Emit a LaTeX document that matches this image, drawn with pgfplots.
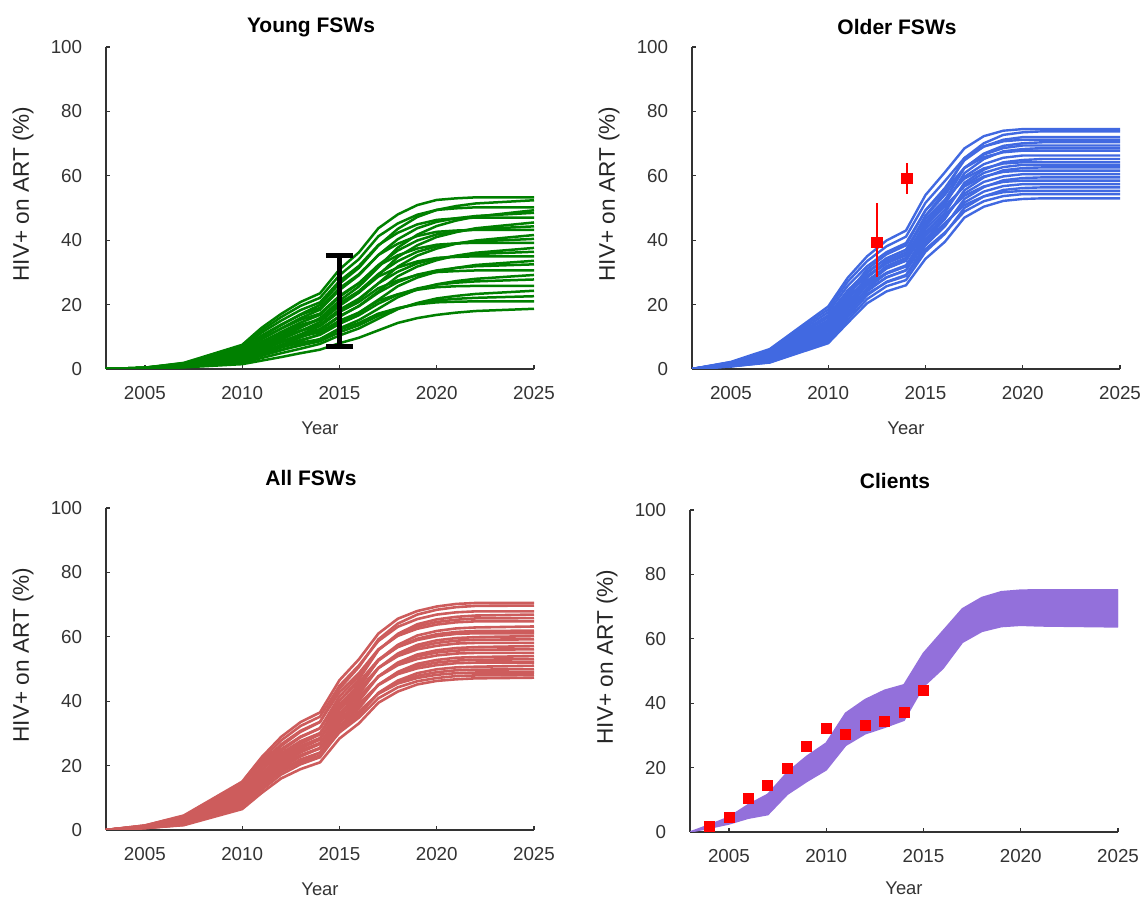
\documentclass[border=0pt]{standalone}
\usepackage{pgfplots}
\pgfplotsset{compat=1.18}
\usepackage{fontspec}
\setmainfont{Liberation Sans}
\definecolor{cgreen}{RGB}{0,128,0}
\definecolor{cblue}{RGB}{65,105,225}
\definecolor{cred}{RGB}{205,92,92}
\definecolor{cpurple}{RGB}{147,112,219}
\definecolor{axgray}{RGB}{51,51,51}
\pgfplotsset{
 panel/.style={
  scale only axis, width=214pt, height=161pt,
  xmin=2003, xmax=2025, ymin=0, ymax=100,
  axis lines=left, axis line style={-, axgray, line width=0.65pt},
  xtick={2005,2010,2015,2020,2025}, xticklabels={2005,2010,2015,2020,2025},
  ytick={0,20,40,60,80,100}, yticklabels={0,20,40,60,80,100},
  tick align=inside, major tick length=2.2pt, tick style={axgray, line width=0.65pt},
  ticklabel style={font=\fontsize{9.4}{11}\selectfont, text=axgray},
  xticklabel style={yshift=-5.4pt},
  yticklabel style={xshift=-8.4pt},
  xlabel=Year,
  xlabel style={at={(axis description cs:0.5,-0.183)}, anchor=center, font=\fontsize{9.2}{11}\selectfont, text=axgray},
  ylabel={HIV+ on ART (\%)},
  ylabel style={at={(axis description cs:-0.194,0.543)}, anchor=center, font=\fontsize{11.3}{13}\selectfont, text=black!85},
  title style={at={(axis description cs:0.5,1)}, anchor=center, yshift=4.0pt, xshift=-4.5pt, font=\fontsize{10.5}{12}\selectfont\bfseries},
 },
}
\begin{document}
\begin{tikzpicture}
\useasboundingbox (0,0) rectangle (570.5pt,448.5pt);
% ---------------- Young FSWs ----------------
\begin{axis}[panel, at={(53pt,264pt)}, anchor=south west, title={Young FSWs},
  run/.style={cgreen, line width=1.25pt, mark=none}]
\addplot[run] coordinates {(2003,0)(2005,0.4)(2007,1.9)(2010,7.5)(2011,12.8)(2012,17.1)(2013,20.8)(2014,23.5)(2015,30.9)(2016,36.2)(2017,43.7)(2018,48.0)(2019,50.9)(2020,52.5)(2021,53.0)(2022,53.3)(2025,53.3)};
\addplot[run] coordinates {(2003,0)(2005,0.4)(2007,1.6)(2010,5.8)(2011,10.0)(2012,13.6)(2013,17.0)(2014,19.9)(2015,26.5)(2016,31.4)(2017,38.3)(2018,43.5)(2019,47.2)(2020,49.4)(2021,50.6)(2022,51.4)(2025,52.4)};
\addplot[run] coordinates {(2003,0)(2005,0.4)(2007,1.8)(2010,7.0)(2011,12.0)(2012,16.1)(2013,19.6)(2014,22.1)(2015,29.1)(2016,34.1)(2017,41.2)(2018,45.2)(2019,47.9)(2020,49.4)(2021,49.9)(2022,50.2)(2025,50.2)};
\addplot[run] coordinates {(2003,0)(2005,0.3)(2007,1.3)(2010,3.9)(2011,6.9)(2012,9.9)(2013,12.8)(2014,15.8)(2015,21.2)(2016,25.6)(2017,31.6)(2018,37.7)(2019,41.7)(2020,44.4)(2021,46.1)(2022,47.3)(2025,49.3)};
\addplot[run] coordinates {(2003,0)(2005,0.3)(2007,1.5)(2010,5.3)(2011,9.2)(2012,12.6)(2013,15.8)(2014,18.4)(2015,24.5)(2016,29.1)(2017,35.4)(2018,40.3)(2019,43.7)(2020,45.7)(2021,46.8)(2022,47.5)(2025,48.5)};
\addplot[run] coordinates {(2003,0)(2005,0.4)(2007,1.6)(2010,6.6)(2011,11.3)(2012,15.0)(2013,18.3)(2014,20.7)(2015,27.3)(2016,32.0)(2017,38.5)(2018,42.3)(2019,44.9)(2020,46.3)(2021,46.8)(2022,47.0)(2025,47.0)};
\addplot[run] coordinates {(2003,0)(2005,0.3)(2007,1.2)(2010,3.6)(2011,6.4)(2012,9.1)(2013,11.8)(2014,14.6)(2015,19.6)(2016,23.7)(2017,29.1)(2018,34.8)(2019,38.4)(2020,41.0)(2021,42.5)(2022,43.7)(2025,45.5)};
\addplot[run] coordinates {(2003,0)(2005,0.3)(2007,1.4)(2010,4.9)(2011,8.4)(2012,11.5)(2013,14.4)(2014,16.8)(2015,22.4)(2016,26.6)(2017,32.3)(2018,36.8)(2019,39.9)(2020,41.8)(2021,42.7)(2022,43.4)(2025,44.3)};
\addplot[run] coordinates {(2003,0)(2005,0.3)(2007,1.5)(2010,6.0)(2011,10.4)(2012,13.8)(2013,16.8)(2014,19.0)(2015,25.1)(2016,29.4)(2017,35.4)(2018,38.9)(2019,41.3)(2020,42.6)(2021,43.0)(2022,43.2)(2025,43.2)};
\addplot[run] coordinates {(2003,0)(2005,0.2)(2007,1.1)(2010,3.3)(2011,5.8)(2012,8.3)(2013,10.8)(2014,13.3)(2015,17.9)(2016,21.6)(2017,26.6)(2018,31.8)(2019,35.2)(2020,37.4)(2021,38.9)(2022,39.9)(2025,41.6)};
\addplot[run] coordinates {(2003,0)(2005,0.3)(2007,1.3)(2010,4.4)(2011,7.7)(2012,10.5)(2013,13.1)(2014,15.4)(2015,20.4)(2016,24.2)(2017,29.5)(2018,33.5)(2019,36.4)(2020,38.1)(2021,39.0)(2022,39.6)(2025,40.4)};
\addplot[run] coordinates {(2003,0)(2005,0.3)(2007,1.4)(2010,5.5)(2011,9.4)(2012,12.5)(2013,15.3)(2014,17.2)(2015,22.7)(2016,26.7)(2017,32.1)(2018,35.3)(2019,37.4)(2020,38.6)(2021,39.0)(2022,39.2)(2025,39.2)};
\addplot[run] coordinates {(2003,0)(2005,0.2)(2007,1.0)(2010,3.0)(2011,5.3)(2012,7.5)(2013,9.8)(2014,12.0)(2015,16.2)(2016,19.6)(2017,24.1)(2018,28.8)(2019,31.8)(2020,33.8)(2021,35.2)(2022,36.1)(2025,37.6)};
\addplot[run] coordinates {(2003,0)(2005,0.3)(2007,1.1)(2010,4.0)(2011,6.9)(2012,9.5)(2013,11.8)(2014,13.8)(2015,18.4)(2016,21.8)(2017,26.6)(2018,30.2)(2019,32.8)(2020,34.3)(2021,35.1)(2022,35.7)(2025,36.4)};
\addplot[run] coordinates {(2003,0)(2005,0.3)(2007,1.2)(2010,4.9)(2011,8.4)(2012,11.2)(2013,13.7)(2014,15.4)(2015,20.3)(2016,23.8)(2017,28.7)(2018,31.5)(2019,33.4)(2020,34.5)(2021,34.8)(2022,35.0)(2025,35.0)};
\addplot[run] coordinates {(2003,0)(2005,0.2)(2007,0.9)(2010,2.7)(2011,4.7)(2012,6.7)(2013,8.7)(2014,10.8)(2015,14.4)(2016,17.5)(2017,21.5)(2018,25.7)(2019,28.4)(2020,30.2)(2021,31.4)(2022,32.3)(2025,33.6)};
\addplot[run] coordinates {(2003,0)(2005,0.2)(2007,1.0)(2010,3.6)(2011,6.2)(2012,8.5)(2013,10.6)(2014,12.4)(2015,16.4)(2016,19.5)(2017,23.7)(2018,27.0)(2019,29.3)(2020,30.6)(2021,31.4)(2022,31.9)(2025,32.5)};
\addplot[run] coordinates {(2003,0)(2005,0.2)(2007,1.1)(2010,4.3)(2011,7.3)(2012,9.8)(2013,11.9)(2014,13.5)(2015,17.7)(2016,20.8)(2017,25.1)(2018,27.5)(2019,29.2)(2020,30.1)(2021,30.4)(2022,30.6)(2025,30.6)};
\addplot[run] coordinates {(2003,0)(2005,0.2)(2007,0.8)(2010,2.3)(2011,4.1)(2012,5.8)(2013,7.6)(2014,9.3)(2015,12.6)(2016,15.2)(2017,18.7)(2018,22.3)(2019,24.7)(2020,26.3)(2021,27.3)(2022,28.0)(2025,29.2)};
\addplot[run] coordinates {(2003,0)(2005,0.2)(2007,0.9)(2010,3.1)(2011,5.3)(2012,7.2)(2013,9.0)(2014,10.6)(2015,14.0)(2016,16.7)(2017,20.3)(2018,23.1)(2019,25.0)(2020,26.2)(2021,26.8)(2022,27.2)(2025,27.8)};
\addplot[run] coordinates {(2003,0)(2005,0.2)(2007,0.9)(2010,3.6)(2011,6.2)(2012,8.3)(2013,10.1)(2014,11.4)(2015,15.0)(2016,17.5)(2017,21.2)(2018,23.2)(2019,24.6)(2020,25.4)(2021,25.7)(2022,25.8)(2025,25.8)};
\addplot[run] coordinates {(2003,0)(2005,0.1)(2007,0.7)(2010,1.9)(2011,3.4)(2012,4.9)(2013,6.3)(2014,7.8)(2015,10.4)(2016,12.6)(2017,15.6)(2018,18.6)(2019,20.5)(2020,21.9)(2021,22.7)(2022,23.3)(2025,24.3)};
\addplot[run] coordinates {(2003,0)(2005,0.2)(2007,0.7)(2010,2.5)(2011,4.3)(2012,5.9)(2013,7.3)(2014,8.6)(2015,11.4)(2016,13.6)(2017,16.5)(2018,18.8)(2019,20.3)(2020,21.3)(2021,21.8)(2022,22.1)(2025,22.6)};
\addplot[run] coordinates {(2003,0)(2005,0.2)(2007,0.7)(2010,2.9)(2011,5.0)(2012,6.7)(2013,8.2)(2014,9.2)(2015,12.2)(2016,14.3)(2017,17.2)(2018,18.9)(2019,20.1)(2020,20.7)(2021,20.9)(2022,21.0)(2025,21.0)};
\addplot[run] coordinates {(2003,0)(2005,0.1)(2007,0.5)(2010,1.5)(2011,2.6)(2012,3.7)(2013,4.9)(2014,6.0)(2015,8.0)(2016,9.7)(2017,12.0)(2018,14.3)(2019,15.8)(2020,16.8)(2021,17.5)(2022,18.0)(2025,18.7)};
\addplot[black, mark=none, forget plot, error bars/.cd, y dir=both, y explicit,
  error bar style={line width=2.5pt, black}, error mark=|,
  error mark options={black, line width=2.5pt, mark size=6.8pt}]
  coordinates {(2015,21.05) +- (0,14.05)};
\end{axis}
% ---------------- Older FSWs ----------------
\begin{axis}[panel, at={(346pt,264pt)}, anchor=south west, title={Older FSWs},
  run/.style={cblue, line width=1.2pt, mark=none}]
\addplot[run] coordinates {(2003,0)(2005,2.2)(2007,6.2)(2010,19.4)(2011,28.3)(2012,35.0)(2013,39.9)(2014,43.0)(2015,54.0)(2016,61.1)(2017,68.5)(2018,72.3)(2019,74.0)(2020,74.5)(2021,74.5)(2022,74.5)(2025,74.5)};
\addplot[run] coordinates {(2003,0)(2005,1.1)(2007,2.8)(2010,11.1)(2011,19.9)(2012,28.4)(2013,33.6)(2014,36.2)(2015,47.6)(2016,55.0)(2017,65.5)(2018,70.1)(2019,72.7)(2020,73.5)(2021,73.8)(2022,73.8)(2025,73.8)};
\addplot[run] coordinates {(2003,0)(2005,1.6)(2007,4.3)(2010,14.8)(2011,23.4)(2012,31.0)(2013,35.6)(2014,38.4)(2015,49.3)(2016,56.2)(2017,64.8)(2018,69.1)(2019,71.2)(2020,72.0)(2021,72.0)(2022,72.0)(2025,72.0)};
\addplot[run] coordinates {(2003,0)(2005,2.1)(2007,5.9)(2010,18.5)(2011,27.1)(2012,33.5)(2013,38.1)(2014,41.1)(2015,51.6)(2016,58.4)(2017,65.5)(2018,69.1)(2019,70.7)(2020,71.2)(2021,71.2)(2022,71.2)(2025,71.2)};
\addplot[run] coordinates {(2003,0)(2005,1.1)(2007,2.7)(2010,10.6)(2011,19.0)(2012,27.1)(2013,32.0)(2014,34.5)(2015,45.4)(2016,52.4)(2017,62.4)(2018,66.9)(2019,69.3)(2020,70.1)(2021,70.4)(2022,70.4)(2025,70.4)};
\addplot[run] coordinates {(2003,0)(2005,1.5)(2007,4.2)(2010,14.2)(2011,22.6)(2012,29.8)(2013,34.4)(2014,37.0)(2015,47.5)(2016,54.1)(2017,62.5)(2018,66.6)(2019,68.6)(2020,69.4)(2021,69.4)(2022,69.4)(2025,69.4)};
\addplot[run] coordinates {(2003,0)(2005,1.0)(2007,2.6)(2010,10.3)(2011,18.5)(2012,26.4)(2013,31.2)(2014,33.6)(2015,44.2)(2016,51.1)(2017,60.8)(2018,65.2)(2019,67.6)(2020,68.3)(2021,68.6)(2022,68.6)(2025,68.6)};
\addplot[run] coordinates {(2003,0)(2005,2.0)(2007,5.6)(2010,17.6)(2011,25.8)(2012,31.9)(2013,36.3)(2014,39.1)(2015,49.2)(2016,55.6)(2017,62.4)(2018,65.8)(2019,67.3)(2020,67.8)(2021,67.8)(2022,67.8)(2025,67.8)};
\addplot[run] coordinates {(2003,0)(2005,1.5)(2007,4.0)(2010,13.6)(2011,21.5)(2012,28.5)(2013,32.8)(2014,35.3)(2015,45.4)(2016,51.7)(2017,59.7)(2018,63.6)(2019,65.6)(2020,66.3)(2021,66.3)(2022,66.3)(2025,66.3)};
\addplot[run] coordinates {(2003,0)(2005,1.0)(2007,2.5)(2010,9.8)(2011,17.6)(2012,25.1)(2013,29.7)(2014,31.9)(2015,42.1)(2016,48.6)(2017,57.8)(2018,61.9)(2019,64.2)(2020,64.9)(2021,65.2)(2022,65.2)(2025,65.2)};
\addplot[run] coordinates {(2003,0)(2005,1.9)(2007,5.3)(2010,16.7)(2011,24.4)(2012,30.2)(2013,34.3)(2014,37.0)(2015,46.5)(2016,52.6)(2017,59.1)(2018,62.3)(2019,63.8)(2020,64.2)(2021,64.2)(2022,64.2)(2025,64.2)};
\addplot[run] coordinates {(2003,0)(2005,1.4)(2007,3.8)(2010,13.0)(2011,20.6)(2012,27.3)(2013,31.4)(2014,33.8)(2015,43.4)(2016,49.5)(2017,57.1)(2018,60.9)(2019,62.7)(2020,63.4)(2021,63.4)(2022,63.4)(2025,63.4)};
\addplot[run] coordinates {(2003,0)(2005,0.9)(2007,2.4)(2010,9.4)(2011,16.9)(2012,24.1)(2013,28.5)(2014,30.7)(2015,40.4)(2016,46.6)(2017,55.5)(2018,59.5)(2019,61.7)(2020,62.4)(2021,62.6)(2022,62.6)(2025,62.6)};
\addplot[run] coordinates {(2003,0)(2005,1.8)(2007,5.1)(2010,16.0)(2011,23.4)(2012,29.0)(2013,33.0)(2014,35.5)(2015,44.7)(2016,50.5)(2017,56.7)(2018,59.8)(2019,61.2)(2020,61.6)(2021,61.6)(2022,61.6)(2025,61.6)};
\addplot[run] coordinates {(2003,0)(2005,1.3)(2007,3.6)(2010,12.4)(2011,19.7)(2012,26.0)(2013,29.9)(2014,32.2)(2015,41.4)(2016,47.2)(2017,54.5)(2018,58.1)(2019,59.8)(2020,60.5)(2021,60.5)(2022,60.5)(2025,60.5)};
\addplot[run] coordinates {(2003,0)(2005,0.9)(2007,2.3)(2010,8.9)(2011,16.1)(2012,22.9)(2013,27.1)(2014,29.2)(2015,38.4)(2016,44.3)(2017,52.8)(2018,56.5)(2019,58.6)(2020,59.3)(2021,59.5)(2022,59.5)(2025,59.5)};
\addplot[run] coordinates {(2003,0)(2005,1.8)(2007,4.9)(2010,15.2)(2011,22.2)(2012,27.5)(2013,31.3)(2014,33.8)(2015,42.4)(2016,48.0)(2017,53.8)(2018,56.7)(2019,58.1)(2020,58.5)(2021,58.5)(2022,58.5)(2025,58.5)};
\addplot[run] coordinates {(2003,0)(2005,1.3)(2007,3.4)(2010,11.8)(2011,18.7)(2012,24.7)(2013,28.4)(2014,30.6)(2015,39.3)(2016,44.8)(2017,51.7)(2018,55.1)(2019,56.8)(2020,57.4)(2021,57.4)(2022,57.4)(2025,57.4)};
\addplot[run] coordinates {(2003,0)(2005,0.8)(2007,2.1)(2010,8.5)(2011,15.2)(2012,21.7)(2013,25.7)(2014,27.6)(2015,36.4)(2016,42.0)(2017,50.0)(2018,53.6)(2019,55.6)(2020,56.2)(2021,56.4)(2022,56.4)(2025,56.4)};
\addplot[run] coordinates {(2003,0)(2005,1.7)(2007,4.6)(2010,14.4)(2011,21.0)(2012,26.0)(2013,29.6)(2014,31.9)(2015,40.1)(2016,45.3)(2017,50.9)(2018,53.6)(2019,54.9)(2020,55.3)(2021,55.3)(2022,55.3)(2025,55.3)};
\addplot[run] coordinates {(2003,0)(2005,1.2)(2007,3.3)(2010,11.1)(2011,17.6)(2012,23.3)(2013,26.9)(2014,28.9)(2015,37.2)(2016,42.4)(2017,48.9)(2018,52.1)(2019,53.7)(2020,54.3)(2021,54.3)(2022,54.3)(2025,54.3)};
\addplot[run] coordinates {(2003,0)(2005,0.8)(2007,2.0)(2010,8.0)(2011,14.3)(2012,20.4)(2013,24.1)(2014,26.0)(2015,34.2)(2016,39.5)(2017,47.0)(2018,50.4)(2019,52.2)(2020,52.8)(2021,53.0)(2022,53.0)(2025,53.0)};
\addplot[only marks, mark=square*, mark size=2.7pt, color=red, forget plot,
  error bars/.cd, y dir=both, y explicit, error bar style={line width=1.25pt, red}, error mark=none]
  coordinates {(2012.5,39.3) += (0,12.4) -= (0,10.6) (2014.05,59.2) += (0,4.7) -= (0,4.9)};
\end{axis}
% ---------------- All FSWs ----------------
\begin{axis}[panel, at={(53pt,33.5pt)}, anchor=south west, title={All FSWs}, title style={yshift=5.0pt},
  run/.style={cred, line width=1.3pt, mark=none}]
\addplot[run] coordinates {(2003,0)(2005,1.4)(2007,4.5)(2010,15.0)(2011,22.6)(2012,28.9)(2013,33.5)(2014,36.5)(2015,46.5)(2016,53.0)(2017,61.0)(2018,65.6)(2019,68.0)(2020,69.4)(2021,70.2)(2022,70.5)(2025,70.5)};
\addplot[run] coordinates {(2003,0)(2005,1.1)(2007,3.3)(2010,12.2)(2011,19.7)(2012,26.1)(2013,30.5)(2014,33.5)(2015,43.9)(2016,50.6)(2017,59.2)(2018,64.1)(2019,66.9)(2020,68.4)(2021,69.2)(2022,69.6)(2025,69.7)};
\addplot[run] coordinates {(2003,0)(2005,1.4)(2007,4.3)(2010,14.5)(2011,21.7)(2012,27.8)(2013,32.3)(2014,35.2)(2015,44.8)(2016,51.1)(2017,58.7)(2018,63.1)(2019,65.5)(2020,66.9)(2021,67.6)(2022,67.9)(2025,67.9)};
\addplot[run] coordinates {(2003,0)(2005,0.8)(2007,2.1)(2010,9.2)(2011,16.3)(2012,22.6)(2013,26.8)(2014,29.7)(2015,40.1)(2016,46.8)(2017,55.9)(2018,60.9)(2019,63.9)(2020,65.4)(2021,66.2)(2022,66.6)(2025,66.9)};
\addplot[run] coordinates {(2003,0)(2005,1.1)(2007,3.2)(2010,11.5)(2011,18.6)(2012,24.6)(2013,28.8)(2014,31.6)(2015,41.5)(2016,47.8)(2017,55.9)(2018,60.5)(2019,63.2)(2020,64.6)(2021,65.3)(2022,65.7)(2025,65.8)};
\addplot[run] coordinates {(2003,0)(2005,1.3)(2007,4.1)(2010,13.8)(2011,20.7)(2012,26.6)(2013,30.8)(2014,33.6)(2015,42.8)(2016,48.7)(2017,56.1)(2018,60.3)(2019,62.5)(2020,63.8)(2021,64.5)(2022,64.8)(2025,64.8)};
\addplot[run] coordinates {(2003,0)(2005,0.8)(2007,2.0)(2010,8.7)(2011,15.4)(2012,21.4)(2013,25.3)(2014,28.1)(2015,37.9)(2016,44.2)(2017,52.8)(2018,57.5)(2019,60.4)(2020,61.8)(2021,62.6)(2022,62.9)(2025,63.2)};
\addplot[run] coordinates {(2003,0)(2005,1.0)(2007,3.0)(2010,10.8)(2011,17.5)(2012,23.2)(2013,27.1)(2014,29.8)(2015,39.0)(2016,44.9)(2017,52.6)(2018,56.9)(2019,59.4)(2020,60.8)(2021,61.5)(2022,61.8)(2025,61.9)};
\addplot[run] coordinates {(2003,0)(2005,1.2)(2007,3.9)(2010,13.0)(2011,19.6)(2012,25.1)(2013,29.0)(2014,31.6)(2015,40.3)(2016,45.9)(2017,52.9)(2018,56.8)(2019,59.0)(2020,60.2)(2021,60.9)(2022,61.1)(2025,61.1)};
\addplot[run] coordinates {(2003,0)(2005,0.7)(2007,1.9)(2010,8.2)(2011,14.6)(2012,20.3)(2013,24.1)(2014,26.7)(2015,36.1)(2016,42.1)(2017,50.3)(2018,54.8)(2019,57.5)(2020,58.9)(2021,59.6)(2022,59.9)(2025,60.2)};
\addplot[run] coordinates {(2003,0)(2005,0.9)(2007,2.8)(2010,10.4)(2011,16.7)(2012,22.1)(2013,25.9)(2014,28.5)(2015,37.3)(2016,43.0)(2017,50.3)(2018,54.5)(2019,56.8)(2020,58.1)(2021,58.8)(2022,59.1)(2025,59.2)};
\addplot[run] coordinates {(2003,0)(2005,1.2)(2007,3.7)(2010,12.4)(2011,18.6)(2012,23.8)(2013,27.6)(2014,30.1)(2015,38.3)(2016,43.7)(2017,50.3)(2018,54.0)(2019,56.1)(2020,57.2)(2021,57.9)(2022,58.1)(2025,58.1)};
\addplot[run] coordinates {(2003,0)(2005,0.7)(2007,1.8)(2010,7.8)(2011,13.9)(2012,19.3)(2013,22.8)(2014,25.4)(2015,34.3)(2016,40.0)(2017,47.7)(2018,52.0)(2019,54.5)(2020,55.8)(2021,56.5)(2022,56.8)(2025,57.1)};
\addplot[run] coordinates {(2003,0)(2005,0.9)(2007,2.7)(2010,9.8)(2011,15.8)(2012,21.0)(2013,24.6)(2014,27.0)(2015,35.3)(2016,40.7)(2017,47.7)(2018,51.6)(2019,53.9)(2020,55.1)(2021,55.7)(2022,56.0)(2025,56.1)};
\addplot[run] coordinates {(2003,0)(2005,1.1)(2007,3.5)(2010,11.7)(2011,17.6)(2012,22.6)(2013,26.1)(2014,28.5)(2015,36.3)(2016,41.4)(2017,47.6)(2018,51.2)(2019,53.1)(2020,54.2)(2021,54.8)(2022,55.0)(2025,55.0)};
\addplot[run] coordinates {(2003,0)(2005,0.6)(2007,1.7)(2010,7.4)(2011,13.1)(2012,18.3)(2013,21.6)(2014,24.0)(2015,32.4)(2016,37.8)(2017,45.1)(2018,49.1)(2019,51.6)(2020,52.8)(2021,53.5)(2022,53.7)(2025,54.0)};
\addplot[run] coordinates {(2003,0)(2005,0.8)(2007,2.5)(2010,9.3)(2011,14.9)(2012,19.8)(2013,23.2)(2014,25.5)(2015,33.4)(2016,38.5)(2017,45.1)(2018,48.8)(2019,50.9)(2020,52.0)(2021,52.6)(2022,52.9)(2025,53.0)};
\addplot[run] coordinates {(2003,0)(2005,1.0)(2007,3.3)(2010,11.1)(2011,16.6)(2012,21.3)(2013,24.7)(2014,26.9)(2015,34.3)(2016,39.1)(2017,45.0)(2018,48.4)(2019,50.2)(2020,51.2)(2021,51.8)(2022,52.0)(2025,52.0)};
\addplot[run] coordinates {(2003,0)(2005,0.6)(2007,1.6)(2010,7.0)(2011,12.4)(2012,17.2)(2013,20.4)(2014,22.6)(2015,30.6)(2016,35.7)(2017,42.6)(2018,46.4)(2019,48.7)(2020,49.9)(2021,50.5)(2022,50.7)(2025,51.0)};
\addplot[run] coordinates {(2003,0)(2005,0.8)(2007,2.4)(2010,8.7)(2011,14.1)(2012,18.7)(2013,21.9)(2014,24.0)(2015,31.4)(2016,36.2)(2017,42.4)(2018,45.9)(2019,47.9)(2020,49.0)(2021,49.6)(2022,49.8)(2025,49.9)};
\addplot[run] coordinates {(2003,0)(2005,1.0)(2007,3.1)(2010,10.4)(2011,15.6)(2012,20.0)(2013,23.2)(2014,25.3)(2015,32.3)(2016,36.8)(2017,42.3)(2018,45.5)(2019,47.2)(2020,48.2)(2021,48.7)(2022,48.9)(2025,48.9)};
\addplot[run] coordinates {(2003,0)(2005,0.8)(2007,2.3)(2010,8.4)(2011,13.6)(2012,18.0)(2013,21.1)(2014,23.1)(2015,30.3)(2016,34.9)(2017,40.9)(2018,44.3)(2019,46.2)(2020,47.2)(2021,47.8)(2022,48.0)(2025,48.1)};
\addplot[run] coordinates {(2003,0)(2005,0.6)(2007,1.5)(2010,6.5)(2011,11.5)(2012,16.0)(2013,18.9)(2014,21.0)(2015,28.4)(2016,33.1)(2017,39.5)(2018,43.0)(2019,45.2)(2020,46.3)(2021,46.8)(2022,47.1)(2025,47.3)};
\end{axis}
% ---------------- Clients ----------------
\begin{axis}[panel, at={(345pt,32.5pt)}, anchor=south west, title={Clients}, title style={yshift=4.5pt, xshift=0pt},
  xlabel style={at={(axis description cs:0.5,-0.176)}}]
% band: upper envelope forward, lower envelope backward
\addplot[fill=cpurple, draw=cpurple, line width=0.8pt, mark=none] coordinates {(2003,0)(2004,2.2)(2005,4.6)(2006,8.5)(2007,11.7)(2008,18.5)(2009,23.5)(2010,27.6)(2011,36.9)(2012,41.1)(2013,44.0)(2014,45.7)(2015,55.5)(2016,62.4)(2017,69.3)(2018,72.8)(2019,74.6)(2020,75.1)(2021,75.2)(2025,75.2)
 (2025,63.7)(2021,64.0)(2020,64.2)(2019,63.8)(2018,62.3)(2017,58.9)(2016,50.8)(2015,45.2)(2014,34.7)(2013,32.5)(2012,30.5)(2011,26.9)(2010,19.3)(2009,15.7)(2008,11.7)(2007,5.4)(2006,4.3)(2005,2.5)(2004,1.2)(2003,0)};
\addplot[only marks, mark=square*, mark size=2.5pt, color=red]
  coordinates {(2004,1.8)(2005,4.6)(2006,10.4)(2007,14.5)(2008,19.8)(2009,26.6)(2010,32.2)(2011,30.3)(2012,33.0)(2013,34.2)(2014,37.1)(2015,44.0)};
\end{axis}
\end{tikzpicture}
\end{document}
